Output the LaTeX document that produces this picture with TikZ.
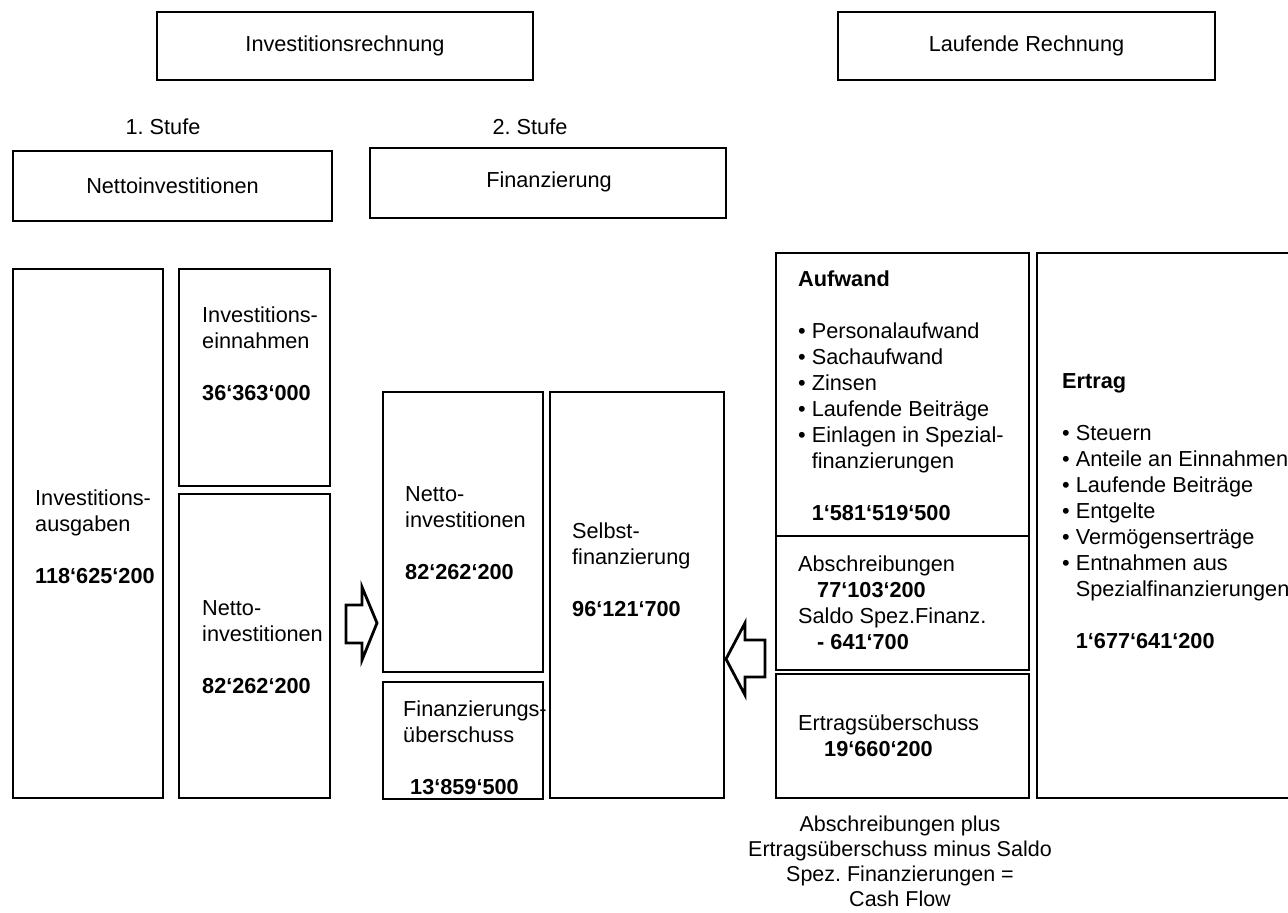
\documentclass[tikz,border=0pt]{standalone}
\usepackage{fontspec}
\setmainfont{Liberation Sans}
\frenchspacing
\newcommand\fs{\fontsize{21.7}{26}\selectfont\frenchspacing}
\newcommand\bul{\hphantom{•\ }}
\tikzset{
  box/.style={draw, line width=2.8pt, anchor=north west, inner sep=0pt, outer sep=0pt, line join=miter},
  txt/.style={anchor=north west, inner sep=0pt, align=left, font=\fs},
  ctxt/.style={inner sep=0pt, align=center, font=\fs},
  blockarrow/.style={draw, line width=2.8pt, line join=miter, fill=white}
}
\begin{document}
\begin{tikzpicture}[x=1pt, y=-1pt]
\useasboundingbox (0,0) rectangle (1288,913);
\clip (0,0) rectangle (1288,913);

% header boxes
\node[box, minimum width=376pt, minimum height=68pt] (inv) at (157,12) {};
\node[ctxt] (invT) at (inv.center) {Investitionsrechnung};
\node[box, minimum width=377pt, minimum height=68pt] (lauf) at (838,12) {};
\node[ctxt] (laufT) at (lauf.center) {Laufende Rechnung};

\node[ctxt] (st1) at (163,127) {1. Stufe};
\node[ctxt] (st2) at (530,127) {2. Stufe};

\node[box, minimum width=319pt, minimum height=70pt] (netH) at (13,151) {};
\node[ctxt] (netHT) at (netH.center) {Nettoinvestitionen};
\node[box, minimum width=356pt, minimum height=70pt] (finH) at (370,148) {};
\node[ctxt] (finHT) at (549,182) {Finanzierung};

% first column
\node[box, minimum width=150pt, minimum height=529pt] (ausg) at (13,269) {};
\node[txt] (ausgT) at (35,490) {Investitions-\\ausgaben\\[26pt]\textbf{118‘625‘200}};
\node[box, minimum width=151pt, minimum height=217pt] (einn) at (179,269) {};
\node[txt] (einnT) at (202,307) {Investitions-\\einnahmen\\[26pt]\textbf{36‘363‘000}};
\node[box, minimum width=151pt, minimum height=304pt] (netL) at (179,494) {};
\node[txt] (netLT) at (202,600) {Netto-\\investitionen\\[26pt]\textbf{82‘262‘200}};

% arrow right
\draw[blockarrow] (346,605) -- (362,605) -- (362,587) -- (377,623) -- (362,660) -- (362,643) -- (346,643) -- cycle;

% middle column
\node[box, minimum width=160pt, minimum height=280pt] (netM) at (383,392) {};
\node[txt] (netMT) at (405,486) {Netto-\\investitionen\\[26pt]\textbf{82‘262‘200}};
\node[box, minimum width=160pt, minimum height=117pt] (fue) at (383,682) {};
\node[txt] (fueT) at (403,701) {Finanzierungs-\\überschuss\\[26pt]\hspace*{7pt}\textbf{13‘859‘500}};
\node[box, minimum width=174pt, minimum height=406pt] (selbst) at (550,392) {};
\node[txt] (selbstT) at (572,523) {Selbst-\\finanzierung\\[26pt]\textbf{96‘121‘700}};

% arrow left
\draw[blockarrow] (726,659) -- (745,623) -- (745,640) -- (765,640) -- (765,677) -- (745,677) -- (745,695) -- cycle;

% right part
\node[box, minimum width=253pt, minimum height=283pt] (aufw) at (776,253) {};
\node[txt] (aufwT) at (798,271) {\textbf{Aufwand}\\[26pt]• Personalaufwand\\• Sachaufwand\\• Zinsen\\• Laufende Beiträge\\• Einlagen in Spezial-\\\bul finanzierungen\\[26pt]\bul\textbf{1‘581‘519‘500}};
\node[box, minimum width=253pt, minimum height=134pt] (absch) at (776,536) {};
\node[txt] (abschT) at (798,556) {Abschreibungen\\\hspace*{19pt}\textbf{77‘103‘200}\\Saldo Spez.Finanz.\\\hspace*{19pt}\textbf{- 641‘700}};
\node[box, minimum width=253pt, minimum height=124pt] (ertue) at (776,674) {};
\node[txt] (ertueT) at (798,715) {Ertragsüberschuss\\\hspace*{26pt}\textbf{19‘660‘200}};
\node[box, minimum width=263pt, minimum height=545pt] (ertrag) at (1037,253) {};
\node[txt] (ertragT) at (1062,373) {\textbf{Ertrag}\\[26pt]• Steuern\\• Anteile an Einnahmen\\• Laufende Beiträge\\• Entgelte\\• Vermögenserträge\\• Entnahmen aus\\\bul Spezialfinanzierungen\\[26pt]\bul\textbf{1‘677‘641‘200}};

% bottom note
\node[ctxt, anchor=north, font=\fontsize{21.5}{25}\selectfont\frenchspacing] (cash) at (900,816) {Abschreibungen plus\\Ertragsüberschuss minus Saldo\\Spez. Finanzierungen =\\Cash Flow};
\end{tikzpicture}
\end{document}
